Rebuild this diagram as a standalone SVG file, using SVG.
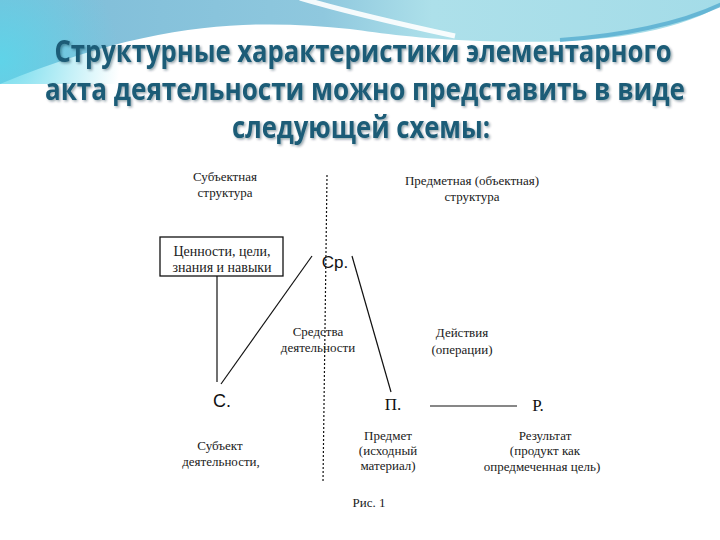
<svg xmlns="http://www.w3.org/2000/svg" width="720" height="540" viewBox="0 0 720 540">
  <defs>
    <linearGradient id="band" x1="0" y1="0" x2="1" y2="0">
      <stop offset="0" stop-color="#7dbcd8"/>
      <stop offset="0.45" stop-color="#8fc8de"/>
      <stop offset="0.6" stop-color="#ade0ea"/>
      <stop offset="1" stop-color="#a4dce8"/>
    </linearGradient>
    <radialGradient id="glow" cx="0" cy="60" r="120" gradientUnits="userSpaceOnUse">
      <stop offset="0" stop-color="#5cd6ea" stop-opacity="0.9"/>
      <stop offset="1" stop-color="#5cd6ea" stop-opacity="0"/>
    </radialGradient>
    <filter id="sh" x="-10%" y="-40%" width="120%" height="180%">
      <feDropShadow dx="1.5" dy="1.5" stdDeviation="0.8" flood-color="#0a2a35" flood-opacity="0.4"/>
    </filter>
    <style>
      .title { font-family: "Open Sans", "Liberation Sans", sans-serif; font-weight: bold; font-size: 25.5px; fill: #1b5c77; text-anchor: middle; }
      .lbl { font-family: "Liberation Serif", "DejaVu Serif", serif; font-size: 13px; fill: #1a1a1a; text-anchor: middle; }
      .big { font-family: "Liberation Serif", "DejaVu Serif", serif; font-size: 17px; fill: #111; text-anchor: middle; }
      .sans { font-family: "Liberation Sans", "DejaVu Sans", sans-serif; font-size: 17px; fill: #111; text-anchor: middle; }
      .ln { stroke: #111; stroke-width: 1.2; fill: none; }
    </style>
  </defs>

  <!-- background -->
  <rect x="0" y="0" width="720" height="540" fill="#ffffff"/>
  <path d="M0,0 H720 V6 C660,40 570,44 480,41 C420,39 380,33 350,29 C260,20 160,18 0,84 Z" fill="url(#band)"/>
  <path d="M0,0 H160 V84 H0 Z" fill="url(#glow)"/>
  <path d="M300,-2 C340,10 400,24 455,36" stroke="#ffffff" stroke-width="5" fill="none" opacity="0.9"/>
  <path d="M560,40 C620,36 680,24 722,4" stroke="#55acd0" stroke-width="4" fill="none" opacity="0.8"/>

  <!-- title -->
  <g id="title" filter="url(#sh)">
    <text class="title" transform="translate(363,62) scale(1,1.16)" x="0" y="0" textLength="617" lengthAdjust="spacingAndGlyphs">Структурные характеристики элементарного</text>
    <text class="title" transform="translate(365,100) scale(1,1.16)" x="0" y="0" textLength="640" lengthAdjust="spacingAndGlyphs">акта деятельности можно представить в виде</text>
    <text class="title" transform="translate(361,138) scale(1,1.16)" x="0" y="0" textLength="258" lengthAdjust="spacingAndGlyphs">следующей схемы:</text>
  </g>

  <!-- connectors -->
  <g id="connectors">
    <path class="ln" d="M327,175 L323,482" stroke-dasharray="2,2" stroke-width="1"/>
    <path class="ln" d="M217,276 L217,382"/>
    <path class="ln" d="M221,384 L312,256"/>
    <path class="ln" d="M352,256 L391,392"/>
    <path class="ln" d="M430,406 L517,406" stroke-width="1.5"/>
  </g>

  <!-- nodes -->
  <g id="subj-structure">
    <text class="lbl" x="225" y="181">Субъектная</text>
    <text class="lbl" x="225" y="197">структура</text>
  </g>
  <g id="obj-structure">
    <text class="lbl" x="472" y="185">Предметная (объектная)</text>
    <text class="lbl" x="472" y="201">структура</text>
  </g>
  <g id="values">
    <rect x="160" y="237" width="123" height="39" fill="#ffffff" stroke="#111" stroke-width="1.3"/>
    <text class="lbl" x="222" y="256" style="font-size:14px">Ценности, цели,</text>
    <text class="lbl" x="222" y="272" style="font-size:14px">знания и навыки</text>
  </g>
  <g id="sr">
    <text class="sans" x="335" y="268">Ср.</text>
  </g>
  <g id="means">
    <text class="lbl" x="318" y="336">Средства</text>
    <text class="lbl" x="318" y="352">деятельности</text>
  </g>
  <g id="actions">
    <text class="lbl" x="462" y="337">Действия</text>
    <text class="lbl" x="462" y="354">(операции)</text>
  </g>
  <g id="s">
    <text class="sans" x="222" y="407" style="font-size:18px">С.</text>
  </g>
  <g id="p">
    <text class="big" x="393" y="410">П.</text>
  </g>
  <g id="r">
    <text class="big" x="538" y="411">Р.</text>
  </g>
  <g id="subject">
    <text class="lbl" x="220" y="450">Субъект</text>
    <text class="lbl" x="221" y="466">деятельности,</text>
  </g>
  <g id="object">
    <text class="lbl" x="388" y="440">Предмет</text>
    <text class="lbl" x="388" y="455">(исходный</text>
    <text class="lbl" x="388" y="470">материал)</text>
  </g>
  <g id="result">
    <text class="lbl" x="545" y="440">Результат</text>
    <text class="lbl" x="545" y="455">(продукт как</text>
    <text class="lbl" x="542" y="471">опредмеченная цель)</text>
  </g>
  <g id="caption">
    <text class="lbl" x="369" y="507">Рис. 1</text>
  </g>
</svg>
